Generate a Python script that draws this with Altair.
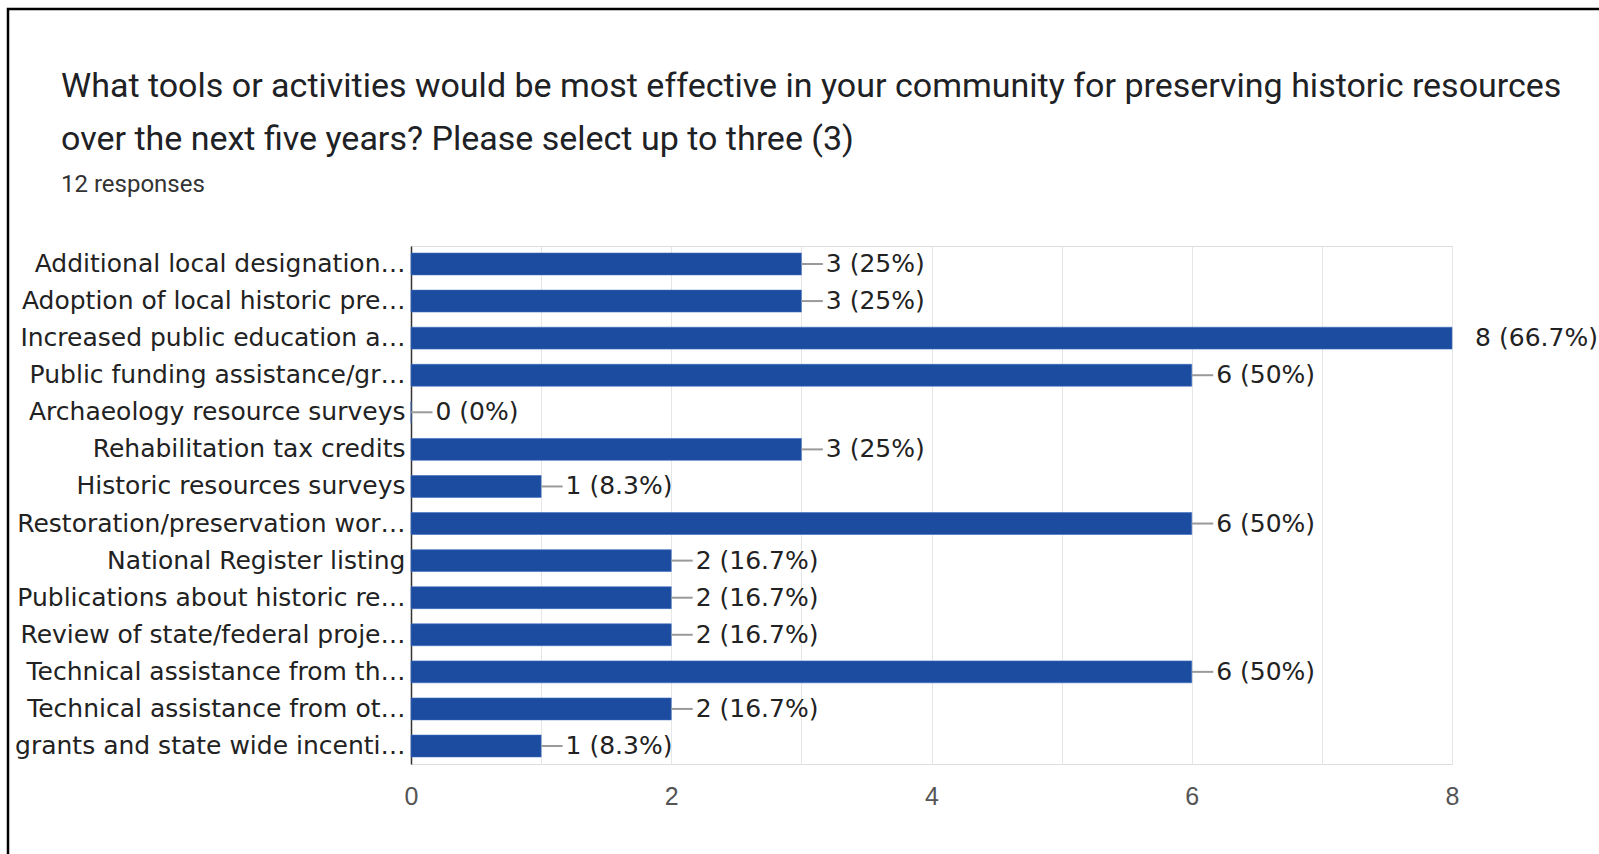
import altair as alt
import pandas as pd

categories = [
    "Additional local designation…",
    "Adoption of local historic pre…",
    "Increased public education a…",
    "Public funding assistance/gr…",
    "Archaeology resource surveys",
    "Rehabilitation tax credits",
    "Historic resources surveys",
    "Restoration/preservation wor…",
    "National Register listing",
    "Publications about historic re…",
    "Review of state/federal proje…",
    "Technical assistance from th…",
    "Technical assistance from ot…",
    "grants and state wide incenti…",
]
counts = [3, 3, 8, 6, 0, 3, 1, 6, 2, 2, 2, 6, 2, 1]
percents = ["25%", "25%", "66.7%", "50%", "0%", "25%", "8.3%", "50%",
            "16.7%", "16.7%", "16.7%", "50%", "16.7%", "8.3%"]
x_ticks = [0, 1, 2, 3, 4, 5, 6, 7, 8]

df = pd.DataFrame({
    "cat": categories,
    "count": counts,
    "label": [f"{c} ({p})" for c, p in zip(counts, percents)],
})

BLUE = "#1c4ca0"
LABEL_FONT = "DejaVu Sans"

y_enc = alt.Y("cat:N", sort=categories, title=None,
              scale=alt.Scale(paddingInner=0.41, paddingOuter=0.19),
              axis=alt.Axis(labelFont=LABEL_FONT, labelFontSize=25, labelColor="#222222",
                            labelLimit=0, ticks=False, labelPadding=6,
                            domainColor="#333333", domainWidth=1.5, grid=False))
x_scale = alt.Scale(domain=[0, 8], nice=False)

bars = alt.Chart(df).mark_bar(color=BLUE, stroke="#3d6bc0", strokeWidth=0.6).encode(
    x=alt.X("count:Q", scale=x_scale, title=None,
            axis=alt.Axis(values=x_ticks, format="d", labelFlush=False,
                          labelExpr="datum.value % 2 == 0 ? datum.label : ''",
                          labelFont="Liberation Sans", labelFontSize=25, labelColor="#555555",
                          labelPadding=20, ticks=False, domain=False,
                          grid=True, gridColor="#e6e6e6", gridWidth=1)),
    y=y_enc,
)

connectors = alt.Chart(df).transform_joinaggregate(
    maxc="max(count)"
).transform_filter("datum.count < datum.maxc").transform_calculate(
    xend="datum.count + 0.165"
).mark_rule(color="#9a9a9a", strokeWidth=2).encode(
    x=alt.X("count:Q", scale=x_scale),
    x2="xend:Q",
    y=alt.Y("cat:N", sort=categories, bandPosition=0.5),
)

texts = alt.Chart(df).transform_joinaggregate(
    maxc="max(count)"
).transform_calculate(
    off="datum.count < datum.maxc ? 0.18 : 0.17"
).transform_calculate(
    xt="datum.count + datum.off"
).mark_text(align="left", baseline="middle", font=LABEL_FONT, fontSize=25,
            color="#222222", dx=1).encode(
    x=alt.X("xt:Q", scale=x_scale),
    y=alt.Y("cat:N", sort=categories, bandPosition=0.5),
    text="label:N",
)

frame = alt.Chart(pd.DataFrame({"k": [0]})).mark_rect(
    fill=None, stroke="#000000", strokeWidth=2.5
).encode(
    x=alt.value(-403), x2=alt.value(1200), y=alt.value(-237), y2=alt.value(640)
)

chart = alt.layer(frame, bars, connectors, texts).properties(
    width=1041,
    height=518,
    title=alt.TitleParams(
        text=["What tools or activities would be most effective in your community for preserving historic resources",
              "over the next five years? Please select up to three (3)"],
        subtitle="12 responses",
        anchor="start",
        frame="group",
        dx=-350,
        offset=-189,
        font="Roboto",
        fontSize=34,
        fontWeight="normal",
        color="#202124",
        lineHeight=53,
        subtitleFont="Roboto",
        subtitleFontSize=24,
        subtitleColor="#333333",
        subtitlePadding=16,
    ),
    autosize=alt.AutoSizeParams(type="none"),
    padding={"left": 411, "top": 246, "right": 147, "bottom": 90},
).configure_view(stroke="#e6e6e6", strokeWidth=1).configure(background="#ffffff")

chart.save("out.html", embed_options={"renderer": "svg", "actions": False})
